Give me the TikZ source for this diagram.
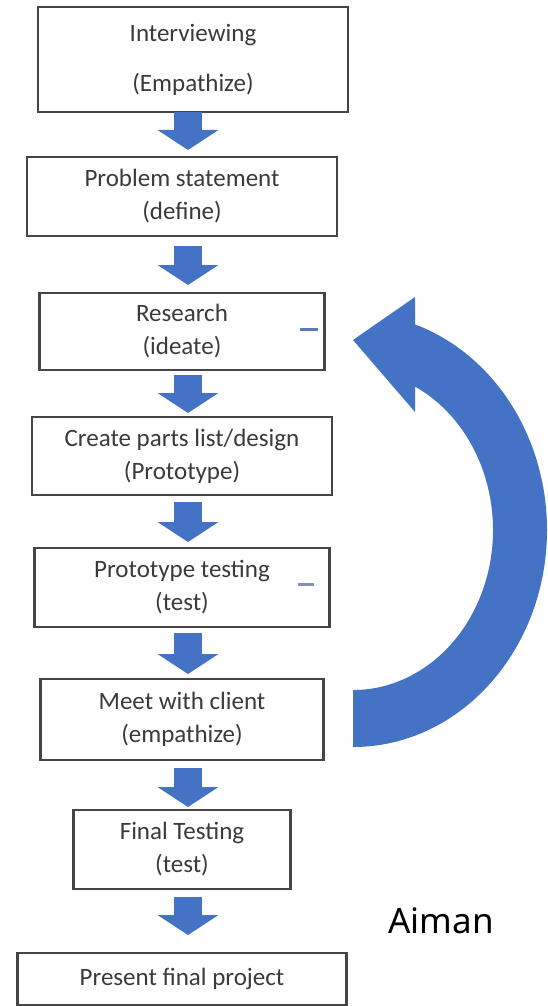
\documentclass[tikz,border=0pt]{standalone}
\usepackage{fontspec}
\setmainfont{Carlito}
\newfontfamily\signfont{Noto Sans}
\usetikzlibrary{arrows.meta,positioning}
\definecolor{flowblue}{HTML}{4472C4}
\definecolor{boxgray}{HTML}{454545}
\definecolor{textgray}{HTML}{3A3A3A}
\definecolor{markblue}{HTML}{5D7AB2}
\definecolor{markgray}{HTML}{8592B2}

\begin{document}
\begin{tikzpicture}[
x=1pt, y=1pt,
box/.style={draw=boxgray, line width=1.2pt, align=center, text=textgray, inner sep=0pt, outer sep=0pt, font=\fontsize{12.5}{16.5}\selectfont},
flow/.style={draw=flowblue, line width=14pt, -{Triangle[width=30pt, length=10pt]}},
marker/.style={line width=1.5pt}
]
\useasboundingbox (0,0) rectangle (273.5,-503);

\node[box, minimum width=155pt, minimum height=52.5pt, font=\fontsize{12.5}{25}\selectfont] (interview) at (96.5,-29.75) {Interviewing\\(Empathize)};
\node[box, minimum width=155pt, minimum height=39.5pt, below=22.5pt of interview, xshift=-5.5pt] (problem) {Problem statement\\(define)};
\node[box, minimum width=142.5pt, minimum height=38.5pt, below=28.5pt of problem] (research) {Research\\(ideate)};
\node[box, minimum width=150pt, minimum height=39pt, below=23.5pt of research] (parts) {Create parts list/design\\(Prototype)};
\node[box, minimum width=147.5pt, minimum height=39.5pt, below=26.5pt of parts] (prototest) {Prototype testing\\(test)};
\node[box, minimum width=141.5pt, minimum height=40.5pt, below=26pt of prototest] (client) {Meet with client\\(empathize)};
\node[box, minimum width=108.5pt, minimum height=39.5pt, below=25pt of client] (final) {Final Testing\\(test)};
\node[box, minimum width=164.5pt, minimum height=26pt, below=32pt of final] (present) {Present final project};

\node[font=\signfont\fontsize{17.5}{20}\selectfont] (sign) at (220.5,-460.25) {Aiman};

% little marks inside two boxes
\draw[marker, markblue] ([shift={(-12.25pt,1.25pt)}]research.east) -- ++(9pt,0);
\draw[marker, markgray] ([shift={(-15.75pt,1.75pt)}]prototest.east) -- ++(8pt,0);

% block arrows down the column
\coordinate (col) at (94,0);
\draw[flow, shorten >=3.5pt] (interview.south -| col) -- (problem.north -| col);
\draw[flow, shorten <=5pt, shorten >=4pt] (problem.south -| col) -- (research.north -| col);
\draw[flow, shorten <=2.5pt, shorten >=2pt] (research.south -| col) -- (parts.north -| col);
\draw[flow, shorten <=3.5pt, shorten >=3pt] (parts.south -| col) -- (prototest.north -| col);
\draw[flow, shorten <=3pt, shorten >=2.5pt] (prototest.south -| col) -- (client.north -| col);
\draw[flow, shorten <=4pt, shorten >=1.5pt] (client.south -| col) -- (final.north -| col);
\draw[flow, shorten <=4pt, shorten >=9pt] (final.south -| col) -- (present.north -| col);

% loop back arrow
\coordinate (loopc) at (176.5,-265);
\fill[flowblue] ([yshift=-108.5pt]loopc) arc[start angle=-90, end angle=71.36, x radius=97pt, y radius=108.5pt]
  -- ([shift={(31pt,116.5pt)}]loopc) -- ([shift={(0pt,95pt)}]loopc) -- ([shift={(31pt,59pt)}]loopc)
  -- ([shift={(31pt,71.7pt)}]loopc) arc[start angle=63.71, end angle=-90, x radius=70pt, y radius=80pt] -- cycle;
\end{tikzpicture}
\end{document}
